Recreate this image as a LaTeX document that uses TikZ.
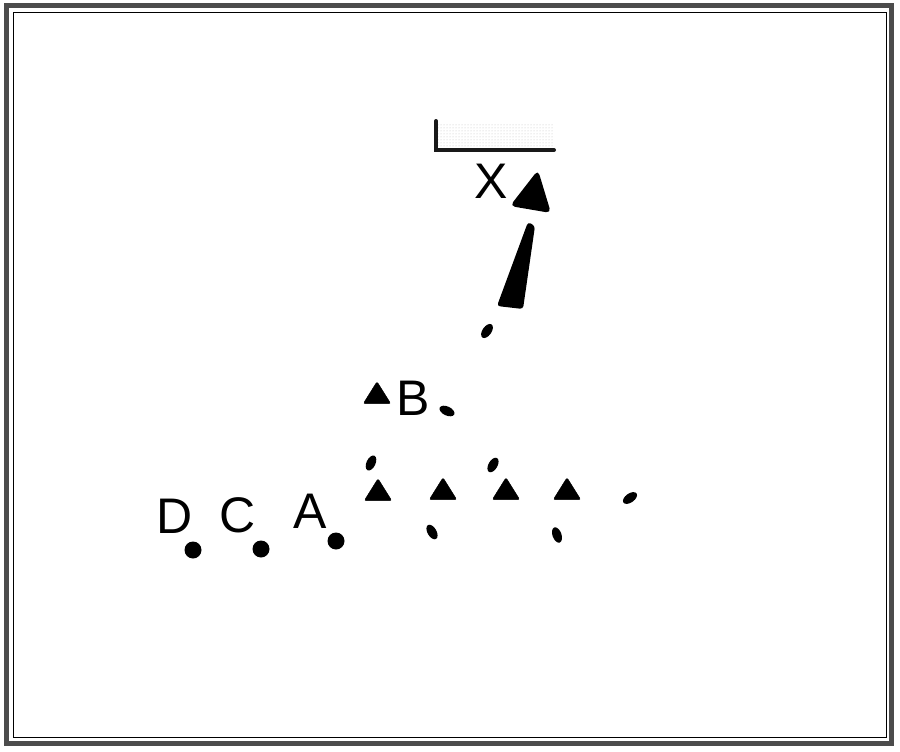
\documentclass[tikz,border=0pt]{standalone}
\usepackage{fontspec}
\setsansfont{Liberation Sans}
\usetikzlibrary{shapes.geometric,patterns,positioning}
\tikzset
{
    player/.style  = {isosceles triangle, isosceles triangle apex angle=64, shape border rotate=90, fill=black, draw=black, inner sep=0pt, minimum height=22pt, rounded corners=2pt},
    spot/.style    = {circle, fill=black, inner sep=0pt, minimum size=17pt},
    ballmark/.style = {ellipse, fill=black, inner sep=0pt, minimum width=16pt, minimum height=9pt},
    letter/.style  = {inner sep=0pt, font=\fontsize{50}{50}\selectfont\sffamily}
}
\begin{document}
\begin{tikzpicture}[x=1pt,y=-1pt]
\useasboundingbox (0,0) rectangle (900,752);
% frame
\draw[gray!60!black, line width=5pt] (6,6) rectangle (891,743);
\draw[black, line width=1pt] (13,13) rectangle (886,737);
% net
\fill[pattern=dots, pattern color=gray!50] (436,123) rectangle (553,149);
\draw[line width=4pt, gray!20!black, line cap=round] (436,121) -- (436,150) -- (554,150);
% setter and hit
\node [letter] at (491,181) (x) {X};
\fill[black, rounded corners=5pt] (538,170) -- (551,213) -- (510,206) -- cycle;
\coordinate (xfoot) at (528,222);
\fill[black, rounded corners=3pt] (xfoot) -- (535,226) -- (523,309) -- (497,306) -- cycle;
% players
\node [player] at (377,396) (pb) {};
\node [letter] at (413,398) (b) {B};
\node [player] at (378,493) (p1) {};
\node [player] at (443,492) (p2) {};
\node [player] at (506,492) (p3) {};
\node [player] at (567,492) (p4) {};
% ball marks
\node [ballmark, rotate=55] at (487,331) (m1) {};
\node [ballmark, rotate=-25] at (447,411) (m2) {};
\node [ballmark, rotate=65] at (371,463) (m3) {};
\node [ballmark, rotate=60] at (493,465) (m4) {};
\node [ballmark, rotate=-60] at (432,532) (m5) {};
\node [ballmark, rotate=-70] at (557,535) (m6) {};
\node [ballmark, rotate=35] at (630,498) (m7) {};
% defenders
\node [letter] at (175,516) (d) {D};
\node [letter] at (238,515) (c) {C};
\node [letter] at (310,511) (a) {A};
\node [spot] at (193,550) (sd) {};
\node [spot] at (261,549) (sc) {};
\node [spot] at (336,541) (sa) {};
\end{tikzpicture}
\end{document}
